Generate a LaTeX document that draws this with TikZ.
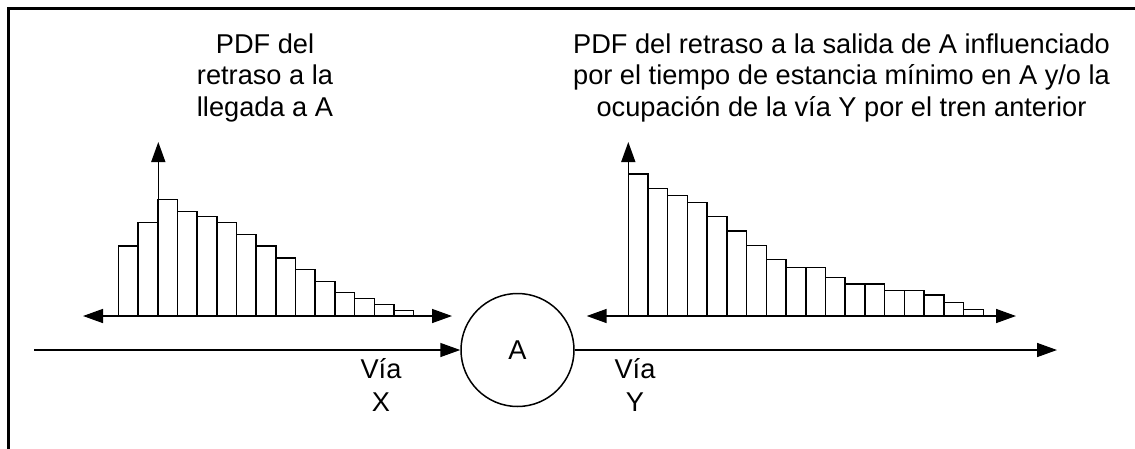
\documentclass[tikz,border=0pt]{standalone}
\usepackage{fontspec}
\setmainfont{Liberation Sans}
\usetikzlibrary{arrows.meta}
\tikzset{
  ln/.style={line width=1.5pt, line cap=butt},
  tip/.style={-{Triangle[length=20pt,width=14pt]}},
  tips/.style={{Triangle[length=20pt,width=14pt]}-{Triangle[length=20pt,width=14pt]}},
  bar/.style={line width=1.5pt, fill=white, draw=black},
  title/.style={inner sep=0pt, align=center, font=\fontsize{27.2}{31.5}\selectfont, anchor=north},
  lbl/.style={inner sep=0pt, align=center, font=\fontsize{27.2}{33.7}\selectfont, anchor=north},
  station/.style={circle, draw, line width=1.5pt, minimum size=113pt, inner sep=0pt, font=\fontsize{27.2}{31.5}\selectfont}
}
\begin{document}
\begin{tikzpicture}[x=1pt,y=-1pt]
\useasboundingbox (0,0) rectangle (1135,448);
% frame (cut by the page on the right and bottom)
\draw[line width=2.5pt] (8.5,460) -- (8.5,8.5) -- (1150,8.5);

% titles
\node[title] (t1) at (265,33.3) {PDF del\\retraso a la\\llegada a A};
\node[title] (t2) at (841.5,33.3) {PDF del retraso a la salida de A influenciado\\por el tiempo de estancia mínimo en A y/o la\\ocupación de la vía Y por el tren anterior};

% left histogram
\foreach \h [count=\i from 0] in {246,222.7,199.3,211.3,216.7,222.7,234.7,246,258,269.3,281.3,292.7,298.7,304.3,310.3}
  \draw[bar] (118.3+19.69*\i,316) rectangle (118.3+19.69*\i+19.69,\h);
\coordinate (lxa) at (83,316);
\coordinate (lxb) at (452,316);
\coordinate (lyo) at (158.3,316);
\coordinate (lyt) at (158.3,142);
\draw[ln,tips] (lxa) -- (lxb);
\draw[ln,tip] (lyo) -- (lyt);

% right histogram
\foreach \h [count=\i from 0] in {174,188.7,195.7,202.7,216.7,231,245.3,259.3,267.7,267.7,277.3,284,284,290.7,290.7,295,302.3,309.3}
  \draw[bar] (628.3+19.72*\i,316) rectangle (628.3+19.72*\i+19.72,\h);
\coordinate (rxa) at (586.7,316);
\coordinate (rxb) at (1016,316);
\coordinate (ryo) at (628.3,316);
\coordinate (ryt) at (628.3,142);
\draw[ln,tips] (rxa) -- (rxb);
\draw[ln,tip] (ryo) -- (ryt);

% track and station
\node[station] (A) at (517.5,350) {A};
\coordinate (xin) at (34,350);
\coordinate (yout) at (1057,350);
\draw[ln,tip] (xin) -- (A.west);
\draw[ln,tip] (A.east) -- (yout);

\node[lbl] (vx) at (381,358) {Vía\\X};
\node[lbl] (vy) at (635,358) {Vía\\Y};
\end{tikzpicture}
\end{document}
